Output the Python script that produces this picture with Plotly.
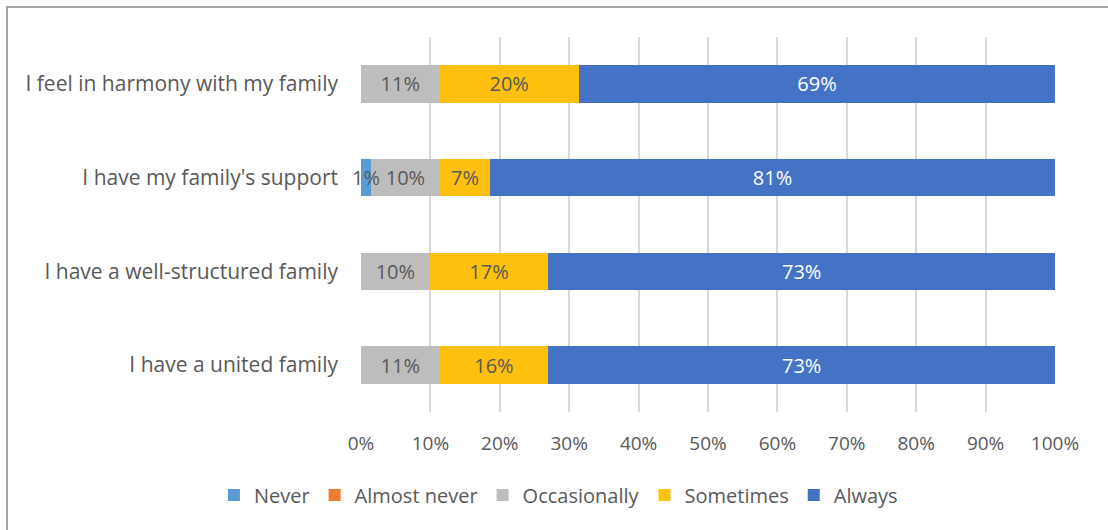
import plotly.graph_objects as go

# Survey items, listed top to bottom
items = [
    "I feel in harmony with my family",
    "I have my family's support",
    "I have a well-structured family",
    "I have a united family",
]

# Share of answers per item (%)
never = [0.0, 1.4, 0.0, 0.0]
almost_never = [0.0, 0.0, 0.0, 0.0]
occasionally = [11.3, 10.0, 9.9, 11.3]
sometimes = [20.1, 7.2, 17.1, 15.7]
always = [68.6, 81.4, 73.0, 73.0]

x_ticks = [0, 10, 20, 30, 40, 50, 60, 70, 80, 90, 100]
x_tick_labels = [f"{t}%" for t in x_ticks]

series = [
    ("Never", never, "#5B9BD5", "#595959"),
    ("Almost never", almost_never, "#ED7D31", "#595959"),
    ("Occasionally", occasionally, "#BDBDBD", "#595959"),
    ("Sometimes", sometimes, "#FDC00F", "#595959"),
    ("Always", always, "#4472C4", "#FFFFFF"),
]

FONT = "Open Sans"
W, H = 1108, 530
L, R, T, B = 361, 53, 37, 118
PW, PH = W - L - R, H - T - B


def label(v):
    return f"{v:.0f}%" if v > 0 else ""


fig = go.Figure()
for name, vals, color, txtcolor in series:
    # segments too thin to hold their label get it as a separate centred annotation
    inside = [label(v) if v >= 5 else "" for v in vals]
    fig.add_trace(go.Bar(
        name=name,
        y=items,
        x=vals,
        orientation="h",
        marker=dict(color=color, line=dict(width=0)),
        text=inside,
        textposition="inside",
        insidetextanchor="middle",
        textangle=0,
        constraintext="none",
        textfont=dict(family=FONT, size=20, color=txtcolor),
        hoverinfo="skip",
    ))

annotations = []
base = [0.0] * len(items)
for name, vals, color, txtcolor in series:
    for i, v in enumerate(vals):
        if 0 < v < 5:
            annotations.append(dict(
                x=base[i] + v / 2, y=items[i], xref="x", yref="y",
                text=label(v), showarrow=False,
                font=dict(family=FONT, size=20, color="#595959"),
            ))
        base[i] += v


def px_x(p):
    return (p - L) / PW


def px_y(p):
    return (H - B - p) / PH


fig.update_layout(
    width=W,
    height=H,
    barmode="stack",
    bargap=0.6,
    paper_bgcolor="white",
    plot_bgcolor="white",
    margin=dict(l=L, r=R, t=T, b=B, autoexpand=False),
    font=dict(family=FONT, color="#595959"),
    showlegend=True,
    legend=dict(
        orientation="h",
        xref="container",
        yref="container",
        x=0.504,
        y=1 - 495 / H,
        xanchor="center",
        yanchor="middle",
        traceorder="normal",
        font=dict(family=FONT, size=20, color="#595959"),
        itemwidth=30,
    ),
    xaxis=dict(
        range=[0, 100],
        tickvals=x_ticks,
        ticktext=x_tick_labels,
        showgrid=True,
        gridcolor="#D9D9D9",
        gridwidth=1.5,
        zeroline=False,
        showline=False,
        tickfont=dict(family=FONT, size=19, color="#595959"),
        ticklabelstandoff=18,
        fixedrange=True,
    ),
    yaxis=dict(
        categoryorder="array",
        categoryarray=items[::-1],
        showgrid=False,
        showline=False,
        tickfont=dict(family=FONT, size=21, color="#595959"),
        ticklabelstandoff=22,
        fixedrange=True,
    ),
    annotations=annotations,
    shapes=[
        dict(
            type="rect", xref="paper", yref="paper",
            x0=px_x(7), x1=px_x(W + 10), y0=px_y(W), y1=px_y(7),
            line=dict(color="#A6A6A6", width=2),
            fillcolor="rgba(0,0,0,0)",
            layer="below",
        )
    ],
)

fig.write_html("out.html")
